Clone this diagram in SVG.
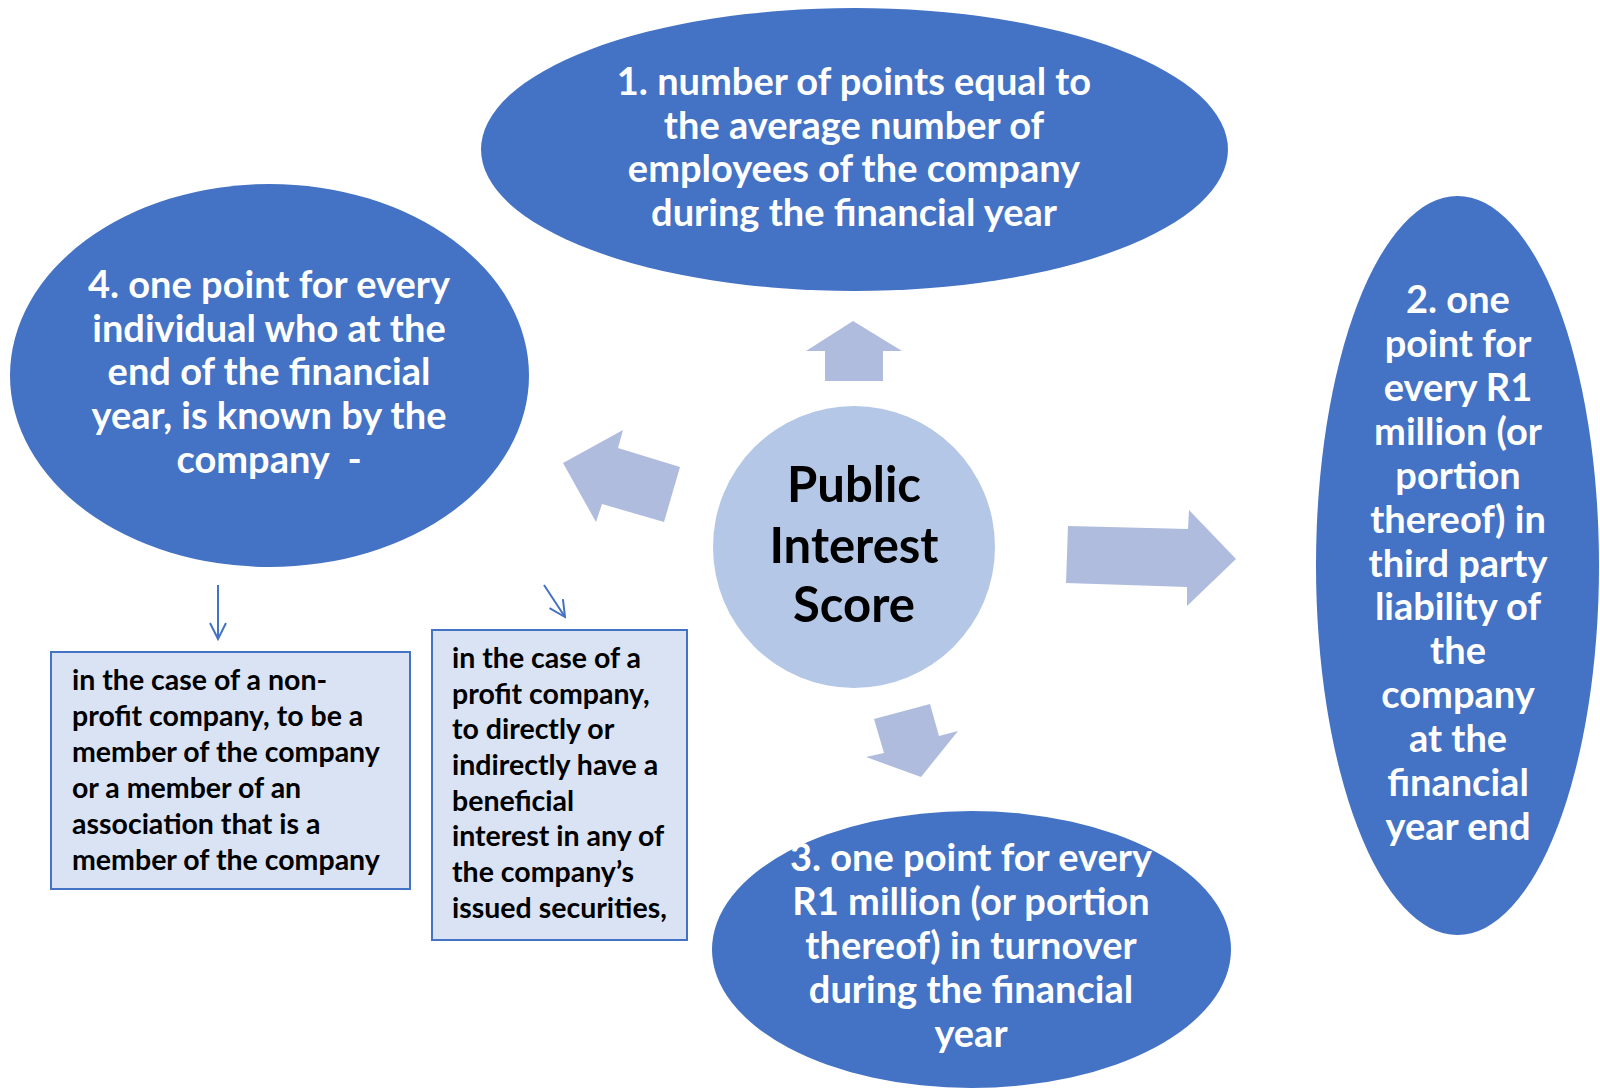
<svg xmlns="http://www.w3.org/2000/svg" width="1600" height="1089" viewBox="0 0 1600 1089">
  <defs>
    <style>
      .oval { fill: #4472C4; }
      .hub { fill: #B4C7E7; }
      .block { fill: #AFBCDE; }
      .box { fill: #DAE3F3; stroke: #4472C4; stroke-width: 2; }
      .thin { fill: none; stroke: #4472C4; stroke-width: 2; }
      .wt { font-family: Lato, "Open Sans", sans-serif; font-weight: 700; font-size: 38px; fill: #FFFFFF; text-anchor: middle; }
      .ct { font-family: Lato, "Open Sans", sans-serif; font-weight: 700; font-size: 49px; fill: #000000; text-anchor: middle; }
      .bt { font-family: Lato, "Open Sans", sans-serif; font-weight: 700; font-size: 28.5px; fill: #000000; }
    </style>
    <marker id="vhead" viewBox="0 0 20 20" refX="18" refY="10" markerWidth="20" markerHeight="20" markerUnits="userSpaceOnUse" orient="auto">
      <path d="M2,2 L18,10 L2,18" fill="none" stroke="#4472C4" stroke-width="2"/>
    </marker>
  </defs>

  <rect width="1600" height="1089" fill="#FFFFFF"/>

  <!-- connectors: block arrows from the hub and thin pointers -->
  <g id="connectors">
    <polygon class="block" points="853,321 902,351 883,351 883,381 825,381 825,351 806,351"/>
    <polygon class="block" points="563,463 623,430 618,448 680,467 664,522 602,504 596,522"/>
    <polygon class="block" points="1068,526 1188,529 1189,510 1236,559 1187,606 1187,587 1066,583"/>
    <polygon class="block" points="874,719 930,704 939,736 958,731 921,777 866,757 884,753"/>
    <line class="thin" x1="218" y1="585" x2="218" y2="639" marker-end="url(#vhead)"/>
    <line class="thin" x1="544" y1="585" x2="565" y2="617" marker-end="url(#vhead)"/>
  </g>

  <g id="hub">
    <circle class="hub" cx="854" cy="547" r="141"/>
    <text class="ct" x="854" y="502">Public</text>
    <text class="ct" x="854" y="563">Interest</text>
    <text class="ct" x="854" y="622">Score</text>
  </g>

  <g id="node-1">
    <ellipse class="oval" cx="854.5" cy="149.5" rx="373.5" ry="141.5"/>
    <text class="wt" x="854" y="95">1. number of points equal to</text>
    <text class="wt" x="854" y="139">the average number of</text>
    <text class="wt" x="854" y="182">employees of the company</text>
    <text class="wt" x="854" y="226">during the financial year</text>
  </g>

  <g id="node-2">
    <ellipse class="oval" cx="1457.5" cy="565.5" rx="141.5" ry="369.5"/>
    <text class="wt" x="1458" y="313">2. one</text>
    <text class="wt" x="1458" y="357">point for</text>
    <text class="wt" x="1458" y="401">every R1</text>
    <text class="wt" x="1458" y="445">million (or</text>
    <text class="wt" x="1458" y="489">portion</text>
    <text class="wt" x="1458" y="533">thereof) in</text>
    <text class="wt" x="1458" y="577">third party</text>
    <text class="wt" x="1458" y="620">liability of</text>
    <text class="wt" x="1458" y="664">the</text>
    <text class="wt" x="1458" y="708">company</text>
    <text class="wt" x="1458" y="752">at the</text>
    <text class="wt" x="1458" y="796">financial</text>
    <text class="wt" x="1458" y="840">year end</text>
  </g>

  <g id="node-3">
    <ellipse class="oval" cx="971.5" cy="949.5" rx="259.5" ry="138.5"/>
    <text class="wt" x="971" y="871">3. one point for every</text>
    <text class="wt" x="971" y="915">R1 million (or portion</text>
    <text class="wt" x="971" y="959">thereof) in turnover</text>
    <text class="wt" x="971" y="1003">during the financial</text>
    <text class="wt" x="971" y="1047">year</text>
  </g>

  <g id="node-4">
    <ellipse class="oval" cx="269.5" cy="375.5" rx="259.5" ry="191.5"/>
    <text class="wt" x="269" y="298">4. one point for every</text>
    <text class="wt" x="269" y="342">individual who at the</text>
    <text class="wt" x="269" y="385">end of the financial</text>
    <text class="wt" x="269" y="429">year, is known by the</text>
    <text class="wt" x="269" y="473" xml:space="preserve">company  -</text>
  </g>

  <g id="note-nonprofit">
    <rect class="box" x="51" y="652" width="359" height="237"/>
    <text class="bt" x="72" y="690">in the case of a non-</text>
    <text class="bt" x="72" y="726">profit company, to be a</text>
    <text class="bt" x="72" y="762">member of the company</text>
    <text class="bt" x="72" y="798">or a member of an</text>
    <text class="bt" x="72" y="834">association that is a</text>
    <text class="bt" x="72" y="870">member of the company</text>
  </g>

  <g id="note-profit">
    <rect class="box" x="432" y="630" width="255" height="310"/>
    <text class="bt" x="452" y="668">in the case of a</text>
    <text class="bt" x="452" y="704">profit company,</text>
    <text class="bt" x="452" y="739">to directly or</text>
    <text class="bt" x="452" y="775">indirectly have a</text>
    <text class="bt" x="452" y="811">beneficial</text>
    <text class="bt" x="452" y="846">interest in any of</text>
    <text class="bt" x="452" y="882">the company’s</text>
    <text class="bt" x="452" y="918">issued securities,</text>
  </g>
</svg>
